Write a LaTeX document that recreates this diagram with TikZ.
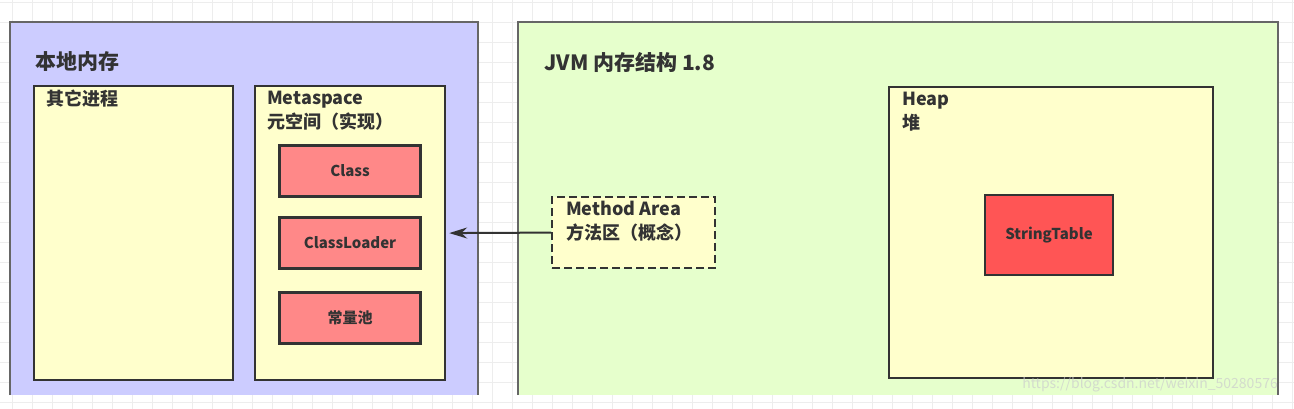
\documentclass[tikz,border=0pt]{standalone}
\usepackage{fontspec}
\setmainfont{Noto Sans CJK SC}
\usetikzlibrary{arrows.meta,positioning}
\definecolor{memblue}{HTML}{CCCCFF}
\definecolor{jvmgreen}{HTML}{E6FFCC}
\definecolor{areayellow}{HTML}{FFFFCC}
\definecolor{partred}{HTML}{FF8888}
\definecolor{tablered}{HTML}{FF5555}
\definecolor{ink}{HTML}{333333}
\begin{document}
\begin{tikzpicture}[x=1pt,y=-1pt,inner sep=0pt,text=ink]
  \useasboundingbox (0,0) rectangle (1294,409);
  \foreach\gx in{12,32,...,1292}{\draw[black!7](\gx,0)--(\gx,409);}
  \foreach\gy in{2,22,...,402}{\draw[black!7](0,\gy)--(1294,\gy);}
  \tikzstyle{frame}=[draw=black!60,line width=1.6pt]
  \tikzstyle{area}=[draw=ink,line width=2.2pt,fill=areayellow,anchor=north west]
  \tikzstyle{part}=[draw=ink,line width=2.2pt,fill=partred,minimum width=141pt,minimum height=51pt,font=\bfseries\fontsize{15}{15}\selectfont]
  \tikzstyle{title}=[anchor=west,align=left,font=\bfseries\fontsize{18}{24}\selectfont]
  % outer regions, cut off at the bottom of the shot
  \fill[memblue](10,22)rectangle(478,395);
  \draw[frame](10,395)|-(478,22)--(478,395);
  \fill[jvmgreen](518,22)rectangle(1278,395);
  \draw[frame](518,395)|-(1278,22)--(1278,395);
  \node[title,font=\bfseries\fontsize{21}{21}\selectfont](localT)at(35,62){本地内存};
  \node[title,font=\bfseries\fontsize{21}{21}\selectfont](jvmT)at(544,62){JVM 内存结构 1.8};
  \node[area,minimum width=199pt,minimum height=294pt](other)at(33,85){};
  \node[area,minimum width=190pt,minimum height=294pt](meta)at(254,85){};
  \node[area,minimum width=324pt,minimum height=291pt](heap)at(888,86){};
  \node[area,dashed,dash pattern=on 8pt off 4pt,minimum width=163pt,minimum height=71pt](method)at(551,196){};
  \node[title](otherT)at(46,99){其它进程};
  \node[title](metaT)at(267,111){Metaspace\\元空间（实现）};
  \node[title](methodT)at(566,221){Method Area\\方法区（概念）};
  \node[title](heapT)at(902,112){Heap\\堆};
  \foreach\n/\t/\y in{cls/Class/171,loader/ClassLoader/243,pool/常量池/318}{\node[part](\n)at(350,\y){\t};}
  \node[part,fill=tablered,minimum width=128pt,minimum height=80pt](table)at(1049,235){StringTable};
  \draw[-{Stealth[length=18pt,width=11pt]},line width=2pt,draw=ink,shorten >=3pt](method.west)--(meta.east);
  \node[anchor=east,text=black!20,opacity=0.7,font=\fontsize{14}{14}\selectfont](mark)at(1278,385){https://blog.csdn.net/weixin\_50280576};
\end{tikzpicture}
\end{document}
